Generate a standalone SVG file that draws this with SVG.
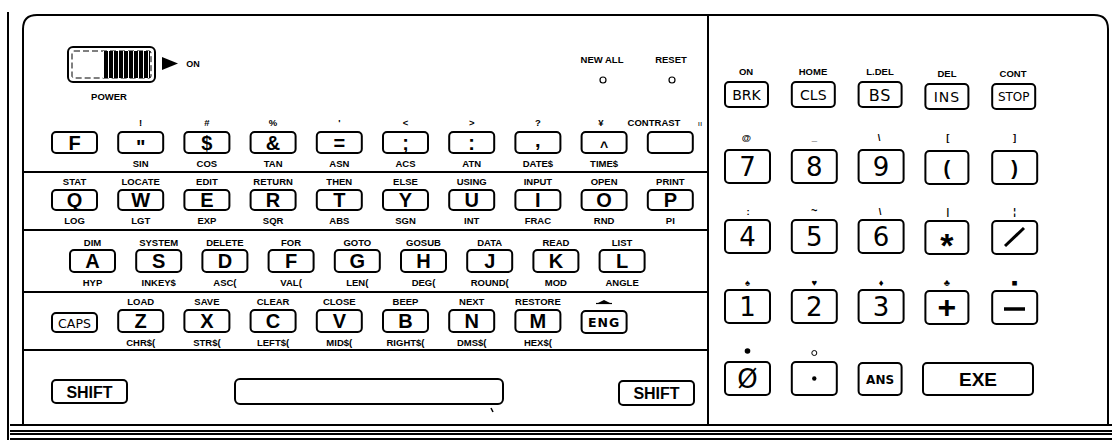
<svg xmlns="http://www.w3.org/2000/svg" width="1112" height="440" viewBox="0 0 1112 440">
<style>
.ln{fill:none;stroke:#000;stroke-width:2}
.k{fill:#fff;stroke:#000;stroke-width:2}
.l{font-family:"Liberation Sans",Arial,sans-serif;font-weight:bold;font-size:9.5px;text-anchor:middle;fill:#000}
.c{font-family:"Liberation Sans",Arial,sans-serif;font-weight:bold;font-size:20px;text-anchor:middle;fill:#000}
.d{font-family:"DejaVu Sans",sans-serif;font-size:26px;text-anchor:middle;fill:#000}
.f{font-family:"DejaVu Sans",sans-serif;font-size:14px;text-anchor:middle;fill:#000}
.s{font-family:"Liberation Sans",Arial,sans-serif;font-weight:bold;font-size:16px;text-anchor:middle;fill:#000}
</style>
<defs>
<pattern id="stripe" width="5" height="10" patternUnits="userSpaceOnUse">
<rect width="5" height="10" fill="#000"/>
<rect x="3" width="1" height="10" fill="#fff"/>
</pattern>
</defs>
<rect width="1112" height="440" fill="#fff"/>
<g id="frame">
<line class="ln" x1="8" y1="12" x2="8" y2="440"/>
<path class="ln" d="M23,425 V29 Q23,15 37,15 H1094 Q1108,15 1108,29 V425"/>
<line class="ln" x1="708" y1="15" x2="708" y2="425"/>
<line class="ln" x1="10" y1="425" x2="1112" y2="425"/>
<line class="ln" x1="10" y1="431" x2="1112" y2="431" stroke-width="1.5"/>
<line class="ln" x1="10" y1="434" x2="1112" y2="434" stroke-width="1.5"/>
<line class="ln" x1="10" y1="439" x2="1112" y2="439" stroke-width="1.5"/>
<line class="ln" x1="23" y1="172" x2="708" y2="172"/>
<line class="ln" x1="23" y1="230" x2="708" y2="230"/>
<line class="ln" x1="23" y1="292" x2="708" y2="292"/>
<line class="ln" x1="23" y1="350" x2="708" y2="350"/>
</g>
<g id="power">
<rect x="68" y="47" width="87" height="35" rx="5" class="k"/>
<rect x="72" y="51" width="79" height="27" rx="2" fill="none" stroke="#000" stroke-width="1" stroke-dasharray="6,3"/>
<rect x="103" y="51" width="47" height="27" fill="url(#stripe)"/>
<polygon points="162,57 178,63.5 162,70" fill="#000"/>
<text class="l" x="193" y="67" style="font-size:9px">ON</text>
<text class="l" x="109" y="100">POWER</text>
</g>
<g id="reset">
<text class="l" x="602" y="63">NEW ALL</text>
<text class="l" x="671" y="63">RESET</text>
<circle cx="603" cy="80" r="3" fill="none" stroke="#000" stroke-width="1.2"/>
<circle cx="672" cy="80" r="3" fill="none" stroke="#000" stroke-width="1.2"/>
</g>
<!-- Row 1 -->
<g id="k-F1"><rect class="k" x="52" y="132" width="45" height="21" rx="4"/><text class="c" x="74.5" y="150">F</text></g>
<g id="k-quote"><text class="l" x="140.7" y="126">!</text><rect class="k" x="118.2" y="132" width="45" height="21" rx="4"/><text class="c" x="140.7" y="154">"</text><text class="l" x="140.7" y="167">SIN</text></g>
<g id="k-dollar"><text class="l" x="206.9" y="126">#</text><rect class="k" x="184.4" y="132" width="45" height="21" rx="4"/><text class="c" x="206.9" y="150">$</text><text class="l" x="206.9" y="167">COS</text></g>
<g id="k-amp"><text class="l" x="273.1" y="126">%</text><rect class="k" x="250.6" y="132" width="45" height="21" rx="4"/><text class="c" x="273.1" y="150">&amp;</text><text class="l" x="273.1" y="167">TAN</text></g>
<g id="k-eq"><text class="l" x="339.3" y="126">'</text><rect class="k" x="316.8" y="132" width="45" height="21" rx="4"/><text class="c" x="339.3" y="150">=</text><text class="l" x="339.3" y="167">ASN</text></g>
<g id="k-semi"><text class="l" x="405.5" y="126">&lt;</text><rect class="k" x="383" y="132" width="45" height="21" rx="4"/><text class="c" x="405.5" y="150">;</text><text class="l" x="405.5" y="167">ACS</text></g>
<g id="k-colon"><text class="l" x="471.7" y="126">&gt;</text><rect class="k" x="449.2" y="132" width="45" height="21" rx="4"/><text class="c" x="471.7" y="150">:</text><text class="l" x="471.7" y="167">ATN</text></g>
<g id="k-comma"><text class="l" x="537.9" y="126">?</text><rect class="k" x="515.4" y="132" width="45" height="21" rx="4"/><text class="c" x="537.9" y="147">,</text><text class="l" x="537.9" y="167">DATE$</text></g>
<g id="k-caret"><text class="l" x="601" y="126">¥</text><rect class="k" x="581.6" y="132" width="45" height="21" rx="4"/><text class="c" x="604.1" y="152" style="font-size:14px">^</text><text class="l" x="604.1" y="167">TIME$</text></g>
<g id="k-contrast"><text class="l" x="654" y="126">CONTRAST</text><text class="l" x="700" y="126" style="font-size:8px;font-weight:normal">ıı</text><rect class="k" x="647.8" y="132" width="45" height="21" rx="4"/></g>
<!-- Row 2 -->
<g id="k-Q"><text class="l" x="74.5" y="185">STAT</text><rect class="k" x="52" y="190" width="45" height="20" rx="4"/><text class="c" x="74.5" y="207">Q</text><text class="l" x="74.5" y="224">LOG</text></g>
<g id="k-W"><text class="l" x="140.7" y="185">LOCATE</text><rect class="k" x="118.2" y="190" width="45" height="20" rx="4"/><text class="c" x="140.7" y="207">W</text><text class="l" x="140.7" y="224">LGT</text></g>
<g id="k-E"><text class="l" x="206.9" y="185">EDIT</text><rect class="k" x="184.4" y="190" width="45" height="20" rx="4"/><text class="c" x="206.9" y="207">E</text><text class="l" x="206.9" y="224">EXP</text></g>
<g id="k-R"><text class="l" x="273.1" y="185">RETURN</text><rect class="k" x="250.6" y="190" width="45" height="20" rx="4"/><text class="c" x="273.1" y="207">R</text><text class="l" x="273.1" y="224">SQR</text></g>
<g id="k-T"><text class="l" x="339.3" y="185">THEN</text><rect class="k" x="316.8" y="190" width="45" height="20" rx="4"/><text class="c" x="339.3" y="207">T</text><text class="l" x="339.3" y="224">ABS</text></g>
<g id="k-Y"><text class="l" x="405.5" y="185">ELSE</text><rect class="k" x="383" y="190" width="45" height="20" rx="4"/><text class="c" x="405.5" y="207">Y</text><text class="l" x="405.5" y="224">SGN</text></g>
<g id="k-U"><text class="l" x="471.7" y="185">USING</text><rect class="k" x="449.2" y="190" width="45" height="20" rx="4"/><text class="c" x="471.7" y="207">U</text><text class="l" x="471.7" y="224">INT</text></g>
<g id="k-I"><text class="l" x="537.9" y="185">INPUT</text><rect class="k" x="515.4" y="190" width="45" height="20" rx="4"/><text class="c" x="537.9" y="207">I</text><text class="l" x="537.9" y="224">FRAC</text></g>
<g id="k-O"><text class="l" x="604.1" y="185">OPEN</text><rect class="k" x="581.6" y="190" width="45" height="20" rx="4"/><text class="c" x="604.1" y="207">O</text><text class="l" x="604.1" y="224">RND</text></g>
<g id="k-P"><text class="l" x="670.3" y="185">PRINT</text><rect class="k" x="647.8" y="190" width="45" height="20" rx="4"/><text class="c" x="670.3" y="207">P</text><text class="l" x="670.3" y="224">PI</text></g>
<!-- Row 3 -->
<g id="k-A"><text class="l" x="92.5" y="246">DIM</text><rect class="k" x="70" y="250" width="45" height="22" rx="4"/><text class="c" x="92.5" y="268">A</text><text class="l" x="92.5" y="286">HYP</text></g>
<g id="k-S"><text class="l" x="158.7" y="246">SYSTEM</text><rect class="k" x="136.2" y="250" width="45" height="22" rx="4"/><text class="c" x="158.7" y="268">S</text><text class="l" x="158.7" y="286">INKEY$</text></g>
<g id="k-D"><text class="l" x="224.9" y="246">DELETE</text><rect class="k" x="202.4" y="250" width="45" height="22" rx="4"/><text class="c" x="224.9" y="268">D</text><text class="l" x="224.9" y="286">ASC(</text></g>
<g id="k-F"><text class="l" x="291.1" y="246">FOR</text><rect class="k" x="268.6" y="250" width="45" height="22" rx="4"/><text class="c" x="291.1" y="268">F</text><text class="l" x="291.1" y="286">VAL(</text></g>
<g id="k-G"><text class="l" x="357.3" y="246">GOTO</text><rect class="k" x="334.8" y="250" width="45" height="22" rx="4"/><text class="c" x="357.3" y="268">G</text><text class="l" x="357.3" y="286">LEN(</text></g>
<g id="k-H"><text class="l" x="423.5" y="246">GOSUB</text><rect class="k" x="401" y="250" width="45" height="22" rx="4"/><text class="c" x="423.5" y="268">H</text><text class="l" x="423.5" y="286">DEG(</text></g>
<g id="k-J"><text class="l" x="489.7" y="246">DATA</text><rect class="k" x="467.2" y="250" width="45" height="22" rx="4"/><text class="c" x="489.7" y="268">J</text><text class="l" x="489.7" y="286">ROUND(</text></g>
<g id="k-K"><text class="l" x="555.9" y="246">READ</text><rect class="k" x="533.4" y="250" width="45" height="22" rx="4"/><text class="c" x="555.9" y="268">K</text><text class="l" x="555.9" y="286">MOD</text></g>
<g id="k-L"><text class="l" x="622.1" y="246">LIST</text><rect class="k" x="599.6" y="250" width="45" height="22" rx="4"/><text class="c" x="622.1" y="268">L</text><text class="l" x="622.1" y="286">ANGLE</text></g>
<!-- Row 4 -->
<g id="k-CAPS"><rect class="k" x="52" y="313" width="45" height="19" rx="4"/><text class="f" x="74.5" y="327.5" style="font-size:12.5px">CAPS</text></g>
<g id="k-Z"><text class="l" x="140.7" y="305">LOAD</text><rect class="k" x="118.2" y="310" width="45" height="22" rx="4"/><text class="c" x="140.7" y="328">Z</text><text class="l" x="140.7" y="346">CHR$(</text></g>
<g id="k-X"><text class="l" x="206.9" y="305">SAVE</text><rect class="k" x="184.4" y="310" width="45" height="22" rx="4"/><text class="c" x="206.9" y="328">X</text><text class="l" x="206.9" y="346">STR$(</text></g>
<g id="k-C"><text class="l" x="273.1" y="305">CLEAR</text><rect class="k" x="250.6" y="310" width="45" height="22" rx="4"/><text class="c" x="273.1" y="328">C</text><text class="l" x="273.1" y="346">LEFT$(</text></g>
<g id="k-V"><text class="l" x="339.3" y="305">CLOSE</text><rect class="k" x="316.8" y="310" width="45" height="22" rx="4"/><text class="c" x="339.3" y="328">V</text><text class="l" x="339.3" y="346">MID$(</text></g>
<g id="k-B"><text class="l" x="405.5" y="305">BEEP</text><rect class="k" x="383" y="310" width="45" height="22" rx="4"/><text class="c" x="405.5" y="328">B</text><text class="l" x="405.5" y="346">RIGHT$(</text></g>
<g id="k-N"><text class="l" x="471.7" y="305">NEXT</text><rect class="k" x="449.2" y="310" width="45" height="22" rx="4"/><text class="c" x="471.7" y="328">N</text><text class="l" x="471.7" y="346">DMS$(</text></g>
<g id="k-M"><text class="l" x="537.9" y="305">RESTORE</text><rect class="k" x="515.4" y="310" width="45" height="22" rx="4"/><text class="c" x="537.9" y="328">M</text><text class="l" x="537.9" y="346">HEX$(</text></g>
<g id="k-ENG"><polygon points="598,303 604,300 610,303" fill="#000"/><line x1="596" y1="303.5" x2="612" y2="303.5" stroke="#000" stroke-width="1.2"/><rect class="k" x="581.6" y="311" width="45" height="22" rx="4"/><text class="f" x="604.1" y="327" style="font-size:12.5px;font-weight:bold" letter-spacing="1">ENG</text></g>
<!-- Row 5 -->
<g id="k-SHIFT-L"><rect class="k" x="52" y="380" width="75" height="23" rx="4"/><text class="s" x="89.5" y="397.5">SHIFT</text></g>
<g id="k-SPACE"><rect class="k" x="235" y="379" width="268" height="25" rx="5"/><line x1="491" y1="408" x2="493" y2="412" stroke="#000" stroke-width="1.5"/></g>
<g id="k-SHIFT-R"><rect class="k" x="619" y="381" width="75" height="24" rx="4"/><text class="s" x="656.5" y="399">SHIFT</text></g>
<!-- Right block row A -->
<g id="k-BRK"><text class="l" x="746" y="75">ON</text><rect class="k" x="725" y="82" width="43" height="25" rx="4"/><text class="f" x="746.5" y="100">BRK</text></g>
<g id="k-CLS"><text class="l" x="813" y="75">HOME</text><rect class="k" x="791.8" y="82" width="43" height="25" rx="4"/><text class="f" x="813.3" y="100">CLS</text></g>
<g id="k-BS"><text class="l" x="880" y="75">L.DEL</text><rect class="k" x="858.6" y="82" width="43" height="25" rx="4"/><text class="f" x="880.1" y="101" style="font-size:16px" letter-spacing="1">BS</text></g>
<g id="k-INS"><text class="l" x="947" y="77">DEL</text><rect class="k" x="925.4" y="84" width="43" height="25" rx="4"/><text class="f" x="946.9" y="102" letter-spacing="1">INS</text></g>
<g id="k-STOP"><text class="l" x="1013" y="77">CONT</text><rect class="k" x="992.2" y="84" width="43" height="25" rx="4"/><text class="f" x="1013.7" y="101" style="font-size:12px">STOP</text></g>
<!-- Right block row 7 -->
<g id="k-7"><text class="l" x="746.5" y="141">@</text><rect class="k" x="725" y="150" width="45" height="33" rx="4"/><text class="d" x="747.5" y="176">7</text></g>
<g id="k-8"><text class="l" x="814.3" y="141">_</text><rect class="k" x="791.8" y="150" width="45" height="33" rx="4"/><text class="d" x="814.3" y="176">8</text></g>
<g id="k-9"><text class="l" x="879" y="141">\</text><rect class="k" x="858.6" y="150" width="45" height="33" rx="4"/><text class="d" x="881.1" y="176">9</text></g>
<g id="k-lpar"><text class="l" x="947.9" y="141">[</text><rect class="k" x="925.4" y="151" width="43" height="33" rx="4"/><text class="c" x="946.9" y="175">(</text></g>
<g id="k-rpar"><text class="l" x="1014.7" y="141">]</text><rect class="k" x="992.2" y="151" width="45" height="33" rx="4"/><text class="c" x="1014.7" y="175">)</text></g>
<!-- Right block row 4 -->
<g id="k-4"><text class="l" x="748" y="215">:</text><rect class="k" x="725" y="220" width="45" height="33" rx="4"/><text class="d" x="747.5" y="246">4</text></g>
<g id="k-5"><text class="l" x="814.3" y="214" style="font-size:11px">~</text><rect class="k" x="791.8" y="220" width="45" height="33" rx="4"/><text class="d" x="814.3" y="246">5</text></g>
<g id="k-6"><text class="l" x="880" y="215">\</text><rect class="k" x="858.6" y="220" width="45" height="33" rx="4"/><text class="d" x="881.1" y="246">6</text></g>
<g id="k-mul"><text class="l" x="947.9" y="215">|</text><rect class="k" x="925.4" y="221" width="43" height="33" rx="4"/><text class="c" x="946.9" y="257" style="font-size:34px">*</text></g>
<g id="k-div"><text class="l" x="1014.7" y="215">¦</text><rect class="k" x="992.2" y="221" width="45" height="33" rx="4"/><line x1="1005" y1="246" x2="1024" y2="228" stroke="#000" stroke-width="3"/></g>
<!-- Right block row 1 -->
<g id="k-1"><text class="l" x="747.5" y="286">♠</text><rect class="k" x="725" y="290" width="45" height="33" rx="4"/><text class="d" x="747.5" y="316">1</text></g>
<g id="k-2"><text class="l" x="814.3" y="286">♥</text><rect class="k" x="791.8" y="290" width="45" height="33" rx="4"/><text class="d" x="814.3" y="316">2</text></g>
<g id="k-3"><text class="l" x="881.1" y="286">♦</text><rect class="k" x="858.6" y="290" width="45" height="33" rx="4"/><text class="d" x="881.1" y="316">3</text></g>
<g id="k-plus"><text class="l" x="946.9" y="286">♣</text><rect class="k" x="925.4" y="291" width="43" height="33" rx="4"/><text class="c" x="946.9" y="318" style="font-size:32px">+</text></g>
<g id="k-minus"><text class="l" x="1014.7" y="286">■</text><rect class="k" x="992.2" y="291" width="45" height="33" rx="4"/><line x1="1004" y1="309" x2="1025" y2="309" stroke="#000" stroke-width="3.5"/></g>
<!-- Right block row 0 -->
<g id="k-0"><circle cx="747.5" cy="351" r="2.8" fill="#000"/><rect class="k" x="725" y="362" width="45" height="33" rx="4"/><text class="d" x="747.5" y="388">Ø</text></g>
<g id="k-dot"><circle cx="814.3" cy="353" r="2.5" fill="none" stroke="#000" stroke-width="1"/><rect class="k" x="791.8" y="362" width="45" height="33" rx="4"/><circle cx="814.3" cy="378.5" r="2.2" fill="#000"/></g>
<g id="k-ANS"><rect class="k" x="858.6" y="363" width="43" height="32" rx="4"/><text class="f" x="880.1" y="384" style="font-size:12px;font-weight:bold">ANS</text></g>
<g id="k-EXE"><rect class="k" x="923" y="363" width="110" height="32" rx="4"/><text class="c" x="978" y="386" style="font-size:19px">EXE</text></g>
</svg>
